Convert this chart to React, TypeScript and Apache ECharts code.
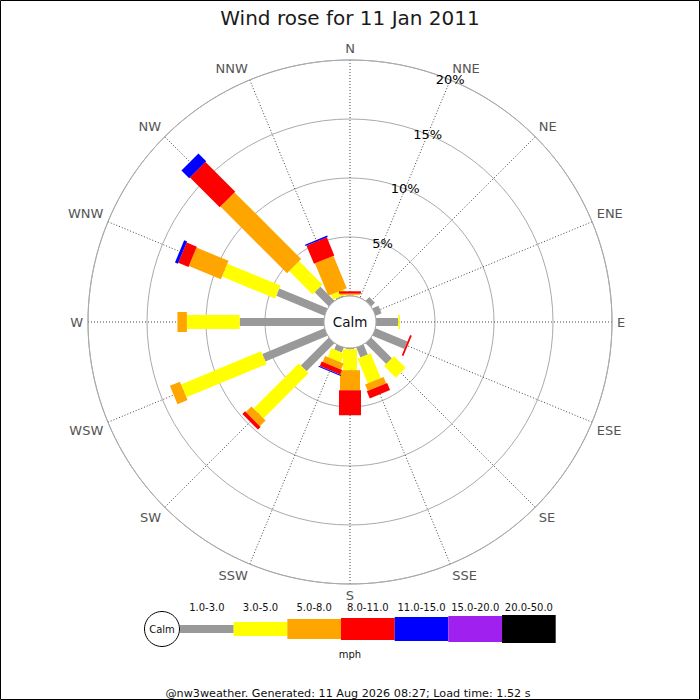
import React, { useEffect, useRef } from 'react';
import * as echarts from 'echarts';

// ---------- data ----------
const DIRECTIONS = ['N', 'NNE', 'NE', 'ENE', 'E', 'ESE', 'SE', 'SSE', 'S', 'SSW', 'SW', 'WSW', 'W', 'WNW', 'NW', 'NNW'];
const SPEED_CLASSES = ['1.0-3.0', '3.0-5.0', '5.0-8.0', '8.0-11.0', '11.0-15.0', '15.0-20.0', '20.0-50.0'];
const PCT_MAX = 20;
const PCT_STEP = 5;

// % of the day, per direction (N..NNW), for each speed class (mph)
const speed1to3 = [0.05, 0, 0.45, 0.55, 1.89, 2.93, 2.48, 0.92, 0.1, 0.46, 3.35, 5.7, 7.15, 4.42, 1.7, 0.1];
const speed3to5 = [0.05, 0, 0, 0, 0.14, 0, 1.4, 2.27, 1.78, 0.8, 5.41, 7.35, 4.47, 4.87, 2.8, 0.45];
const speed5to8 = [0.1, 0, 0, 0, 0, 0, 0, 0.58, 1.7, 0.55, 0.68, 0.92, 0.8, 2.94, 7.98, 2.97];
const speed8to11 = [0.2, 0, 0, 0, 0, 0.15, 0, 0.65, 2.12, 0.42, 0.32, 0, 0, 0.93, 3.57, 1.66];
const speed11to15 = [0, 0, 0, 0, 0, 0, 0, 0, 0, 0.1, 0, 0, 0, 0.27, 0.93, 0.12];
const speed15to20 = [0, 0, 0, 0, 0, 0, 0, 0, 0, 0, 0, 0, 0, 0, 0, 0];
const speed20to50 = [0, 0, 0, 0, 0, 0, 0, 0, 0, 0, 0, 0, 0, 0, 0, 0];
const CLASS_VALUES = [speed1to3, speed3to5, speed5to8, speed8to11, speed11to15, speed15to20, speed20to50];

// ---------- styles ----------
const COLORS = ['#999999', '#ffff00', '#ffa500', '#ff0000', '#0000ff', '#a020f0', '#000000'];
const BAR_WIDTHS = [8, 14, 20, 22, 24, 26, 28];
const FONT = 'DejaVu Sans';
const CX = 350;
const CY = 322;
const CALM_R = 26;
const OUTER_R = 262;

function buildSeries() {
  const step = 360 / DIRECTIONS.length;
  return CLASS_VALUES.map((vals, k) => {
    const data: number[][] = [];
    vals.forEach((v, i) => {
      if (v <= 0) return;
      let base = 0;
      for (let j = 0; j < k; j++) base += CLASS_VALUES[j][i];
      data.push([base + v, i * step, base, k]);
    });
    return {
      type: 'custom',
      name: SPEED_CLASSES[k],
      coordinateSystem: 'polar',
      polarIndex: 0,
      encode: { radius: 0, angle: 1 },
      data,
      z: 3,
      renderItem: (params: any, api: any) => {
        const top = api.value(0);
        const ang = api.value(1);
        const base = api.value(2);
        const cls = api.value(3);
        const p0 = api.coord([base, ang]);
        const p1 = api.coord([top, ang]);
        const dx = p1[0] - p0[0];
        const dy = p1[1] - p0[1];
        const len = Math.hypot(dx, dy);
        if (len < 0.01) return null;
        const nx = -dy / len;
        const ny = dx / len;
        const hw = BAR_WIDTHS[cls] / 2;
        return {
          type: 'polygon',
          shape: {
            points: [
              [p0[0] + nx * hw, p0[1] + ny * hw],
              [p1[0] + nx * hw, p1[1] + ny * hw],
              [p1[0] - nx * hw, p1[1] - ny * hw],
              [p0[0] - nx * hw, p0[1] - ny * hw],
            ],
          },
          style: { fill: COLORS[cls], stroke: null },
        };
      },
    };
  });
}

function buildGraphics() {
  const g: any[] = [];
  // outer frame
  g.push({
    type: 'rect', z: 100, silent: true,
    shape: { x: 0.5, y: 0.5, width: 699, height: 699 },
    style: { fill: 'none', stroke: '#000', lineWidth: 1 },
  });
  // calm circle in the middle
  g.push({
    type: 'circle', z: 20,
    shape: { cx: CX, cy: CY, r: CALM_R },
    style: { fill: '#fff', stroke: '#aaaaaa', lineWidth: 1 },
  });
  g.push({
    type: 'text', z: 21, x: CX, y: CY,
    style: { text: 'Calm', fontSize: 13.5, fontFamily: FONT, fill: '#111', align: 'center', verticalAlign: 'middle' },
  });
  // legend
  const legY = 629;
  const legCalmX = 162;
  const legX0 = 180;
  const segW = (555.7 - 180) / SPEED_CLASSES.length;
  g.push({
    type: 'circle', z: 20,
    shape: { cx: legCalmX, cy: legY, r: 17.5 },
    style: { fill: '#fff', stroke: '#000', lineWidth: 1 },
  });
  g.push({
    type: 'text', z: 21, x: legCalmX, y: legY,
    style: { text: 'Calm', fontSize: 10, fontFamily: FONT, fill: '#111', align: 'center', verticalAlign: 'middle' },
  });
  SPEED_CLASSES.forEach((name, k) => {
    const h = BAR_WIDTHS[k];
    const x = legX0 + k * segW;
    g.push({
      type: 'rect', z: 20,
      shape: { x, y: legY - h / 2, width: segW, height: h },
      style: { fill: COLORS[k] },
    });
    g.push({
      type: 'text', z: 21, x: x + segW / 2, y: 607.5,
      style: { text: name, fontSize: 10, fontFamily: FONT, fill: '#111', align: 'center', verticalAlign: 'middle' },
    });
  });
  g.push({
    type: 'text', z: 21, x: 350, y: 654,
    style: { text: 'mph', fontSize: 10, fontFamily: FONT, fill: '#111', align: 'center', verticalAlign: 'middle' },
  });
  g.push({
    type: 'text', z: 21, x: 348, y: 693,
    style: {
      text: '@nw3weather. Generated: 11 Aug 2026 08:27; Load time: 1.52 s',
      fontSize: 11.2, fontFamily: FONT, fill: '#111', align: 'center', verticalAlign: 'middle',
    },
  });
  return g;
}

export default function App() {
  const ref = useRef<HTMLDivElement>(null);
  useEffect(() => {
    document.body.style.margin = '0';
    const chart = echarts.init(ref.current!, null, { renderer: 'svg' });
    const step = 360 / DIRECTIONS.length;
    const option: any = {
      animation: false,
      backgroundColor: '#ffffff',
      textStyle: { fontFamily: FONT },
      title: {
        text: 'Wind rose for 11 Jan 2011',
        left: 'center',
        top: 3,
        textStyle: { fontSize: 20, fontWeight: 'normal', color: '#1a1a1a', fontFamily: FONT },
      },
      polar: [
        { center: [CX, CY], radius: [CALM_R, OUTER_R] },
        { center: [CX, CY], radius: [CALM_R, OUTER_R] },
      ],
      angleAxis: [
        {
          polarIndex: 0,
          type: 'value',
          min: 0,
          max: 360,
          interval: step,
          startAngle: 90,
          clockwise: true,
          axisLine: { show: true, lineStyle: { color: '#aaaaaa', width: 1 } },
          axisTick: { show: false },
          axisLabel: {
            show: true,
            margin: 5,
            fontSize: 13,
            color: '#555555',
            fontFamily: FONT,
            formatter: (v: number) => {
              const idx = Math.round(v / step);
              return idx < DIRECTIONS.length ? DIRECTIONS[idx] : '';
            },
          },
          splitLine: { show: true, lineStyle: { color: '#444444', width: 1, type: [1, 2] } },
        },
        {
          polarIndex: 1,
          type: 'value',
          min: 0,
          max: 360,
          startAngle: 90 - step,
          show: false,
        },
      ],
      radiusAxis: [
        {
          polarIndex: 0,
          type: 'value',
          min: 0,
          max: PCT_MAX,
          interval: PCT_STEP,
          axisLine: { show: false },
          axisTick: { show: false },
          axisLabel: { show: false },
          splitLine: { show: true, lineStyle: { color: '#aaaaaa', width: 1 } },
        },
        {
          polarIndex: 1,
          type: 'value',
          min: 0,
          max: PCT_MAX,
          interval: PCT_STEP,
          axisLine: { show: false },
          axisTick: { show: false },
          splitLine: { show: false },
          z: 10,
          axisLabel: {
            show: true,
            margin: 0,
            align: 'center',
            verticalAlign: 'middle',
            fontSize: 13,
            color: '#000000',
            fontFamily: FONT,
            formatter: (v: number) => (v === 0 ? '' : v + '%'),
          },
        },
      ],
      series: buildSeries(),
      graphic: buildGraphics(),
    };
    chart.setOption(option);
    return () => chart.dispose();
  }, []);
  return <div ref={ref} style={{ position: 'absolute', left: 0, top: 0, width: 700, height: 700 }} />;
}
